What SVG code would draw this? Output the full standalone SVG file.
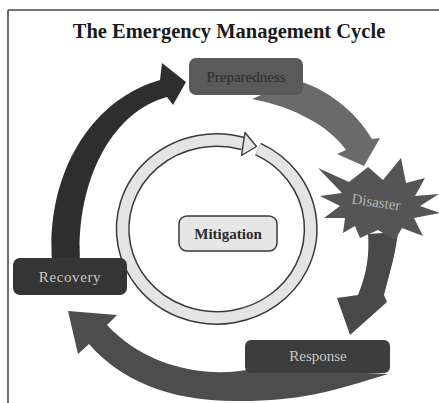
<svg xmlns="http://www.w3.org/2000/svg" width="439" height="403" viewBox="0 0 439 403">
  <defs>
    <filter id="soft" x="-10%" y="-10%" width="120%" height="120%">
      <feGaussianBlur stdDeviation="0.7"/>
    </filter>
    <style>
      .title { font-family: "Liberation Serif", "Times New Roman", serif; font-weight: bold; font-size: 20.5px; fill: #1a1a1a; }
      .lbl { font-family: "Liberation Serif", "Times New Roman", serif; font-size: 15px; text-anchor: middle; }
      .box { filter: url(#soft); }
      .arrow { filter: url(#soft); }
      .frame { stroke: #4a4a4a; stroke-width: 1.6; fill: none; }
    </style>
  </defs>
  <rect x="0" y="0" width="439" height="403" fill="#ffffff"/>
  <path class="frame" d="M8,10 H439 M8,10 V403"/>
  <text class="title" x="229" y="38" text-anchor="middle">The Emergency Management Cycle</text>

  <g id="connectors">
    <!-- Recovery -> Preparedness -->
    <path class="arrow" fill="#2e2e2e" d="M52,262 C46,175 90,100 160,80 L162,63 L186,82 L173,105 L167,97 C112,112 76,180 80,262 Z"/>
    <!-- Preparedness -> Disaster -->
    <path class="arrow" fill="#6b6b6b" d="M296,80 C325,88 355,110 372,139 L380,138 L364,166 L337,154 L346,150 C330,127 295,107 252,99 Z"/>
    <!-- Disaster -> Response -->
    <path class="arrow" fill="#4a4a4a" d="M368,234 C370,262 364,280 358,295 L337,298 L350,335 L387,302 L384,295 C390,272 396,252 398,232 Z"/>
    <!-- Response -> Recovery -->
    <path class="arrow" fill="#4d4d4d" d="M388,374 C330,392 300,401 240,401 C170,402 120,380 89,344 L78,354 L68,311 L117,315 L107,325 C145,366 205,380 258,368 Z"/>
  </g>

  <g id="mitigation-cycle">
    <path d="M258,149 A94,89 0 1 1 243,143.5" fill="none" stroke="#3a3a3a" stroke-width="14"/>
    <path d="M258,149 A94,89 0 1 1 243,143.5" fill="none" stroke="#e4e4e4" stroke-width="11"/>
    <polygon points="245,132.5 256.5,146.5 241.5,155.5" fill="#e4e4e4" stroke="#3a3a3a" stroke-width="1.4" stroke-linejoin="round"/>
  </g>

  <g id="preparedness">
    <rect class="box" x="189" y="58" width="114" height="37" rx="7" fill="#5a5a5a"/>
    <text class="lbl" x="246" y="82" fill="#2c2c2c">Preparedness</text>
  </g>

  <g id="disaster">
    <polygon class="box" fill="#545454" points="318,168 349,182 368,167 383,180 401,158 406,183 425,178 415,196 439,194 420,206 440,213 414,218 423,236 402,228 395,240 378,230 360,238 355,226 343,233 345,218 324,218 340,206 320,196 342,193"/>
    <text class="lbl" x="376" y="207" fill="#b4b4b4" font-size="12" transform="rotate(8 376 203)">Disaster</text>
  </g>

  <g id="response">
    <rect class="box" x="245" y="340" width="145" height="33" rx="6" fill="#3c3c3c"/>
    <text class="lbl" x="318" y="361" fill="#c8c8c8">Response</text>
  </g>

  <g id="recovery">
    <rect class="box" x="13" y="258" width="114" height="37" rx="7" fill="#363636"/>
    <text class="lbl" x="70" y="282" fill="#c8c8c8" letter-spacing="0.6">Recovery</text>
  </g>

  <g id="mitigation">
    <rect x="179" y="216" width="98" height="35" rx="8" fill="#e6e6e6" stroke="#3a3a3a" stroke-width="1.5"/>
    <text class="lbl" x="228" y="239" fill="#2a2a2a" font-weight="bold" font-size="16">Mitigation</text>
  </g>
</svg>
